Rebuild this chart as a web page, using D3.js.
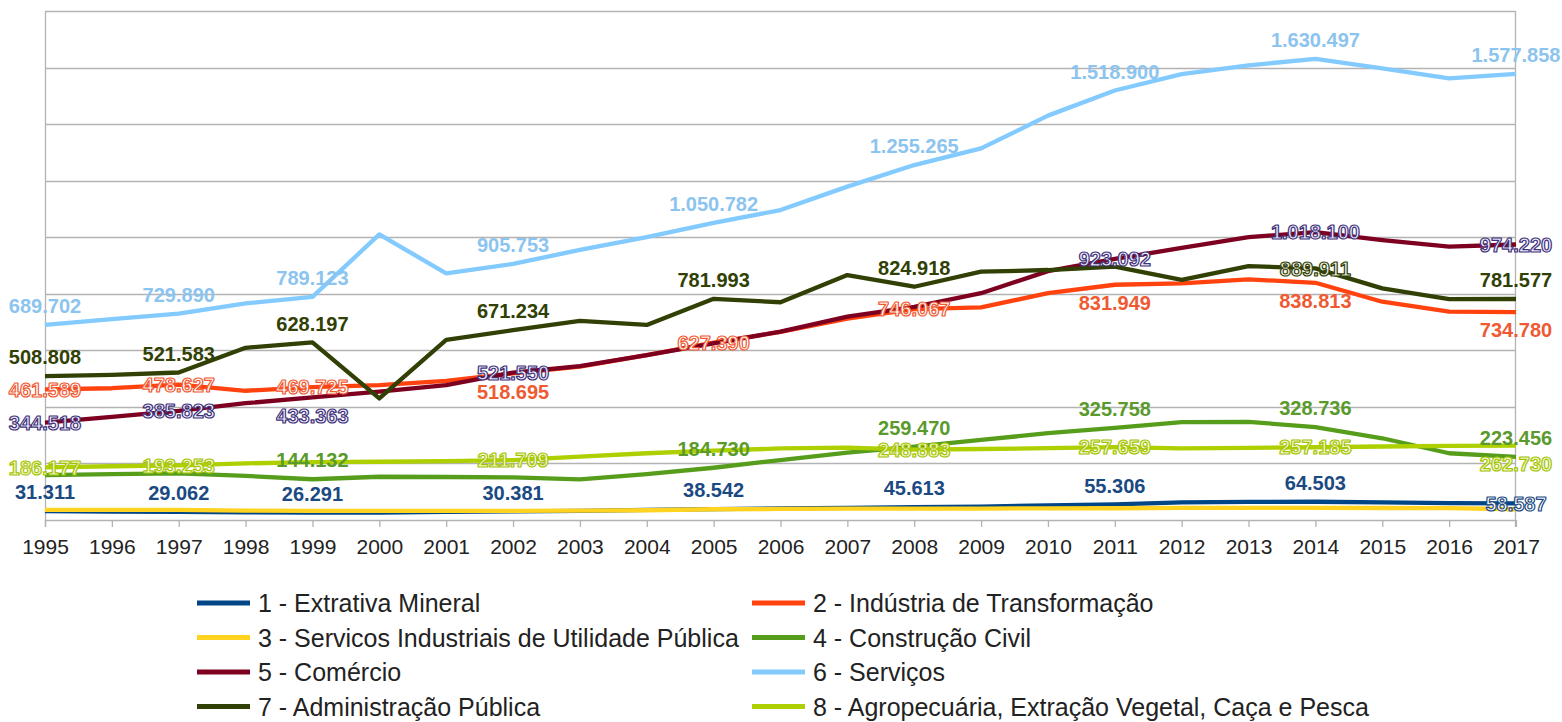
<!DOCTYPE html>
<html lang="pt">
<head>
  <meta charset="UTF-8">
  <title>Empregos por setor 1995-2017</title>
  <script src="https://d3js.org/d3.v7.min.js"></script>
  <style>
    body { margin: 0; background: #fff; }
    svg { display: block; }
    .grid line, .frame { stroke: #b3b3b3; stroke-width: 1.3px; fill: none; }
    .xaxis text { font: 21px "Liberation Sans", Arial, sans-serif; fill: #222; }
    .xaxis line { stroke: #b3b3b3; }
    .xaxis path { display: none; }
    .series { fill: none; stroke-width: 4.3px; stroke-linejoin: round; }
    .lbl { font: bold 20px "Liberation Sans", Arial, sans-serif; text-anchor: middle; }
    .legend text { font: 25px "Liberation Sans", Arial, sans-serif; fill: #222; }
  </style>
</head>
<body>
  <svg></svg>
  <script>
    const width = 1562;
    const height = 722;

    // categories
    const years = [1995, 1996, 1997, 1998, 1999, 2000, 2001, 2002, 2003, 2004, 2005, 2006,
                   2007, 2008, 2009, 2010, 2011, 2012, 2013, 2014, 2015, 2016, 2017];

    // series values (labelled points are exact)
    const extrativa = [31311, 30000, 29062, 27000, 26291, 26500, 28500, 30381, 32500, 35500, 38542, 41000,
                       43200, 45613, 47500, 51500, 55306, 62500, 64000, 64503, 62000, 59500, 58587];
    const industria = [461589, 466000, 478627, 457000, 469725, 477000, 492000, 518695, 542000, 583000, 627390, 665000,
                       712000, 746067, 752000, 802000, 831949, 837000, 851000, 838813, 772000, 737000, 734780];
    const utilidade = [36000, 36000, 36000, 33000, 32000, 32000, 32000, 32500, 33000, 34500, 38000, 39000,
                       40000, 40500, 40500, 41000, 41500, 43000, 43000, 43000, 42500, 42000, 38000];
    const construcao = [159000, 162000, 165000, 156000, 144132, 153000, 152000, 151000, 144000, 162000, 184730, 212000,
                        238000, 259470, 283000, 307000, 325758, 346000, 347000, 328736, 289000, 236000, 223456];
    const comercio = [344518, 365000, 385823, 413000, 433363, 454000, 477000, 521550, 544000, 583000, 625000, 666000,
                      719000, 754000, 802000, 880000, 923092, 962000, 1000000, 1018100, 990000, 967000, 974220];
    const servicos = [689702, 710000, 729890, 766000, 789123, 1010000, 872000, 905753, 955000, 1000000, 1050782, 1096000,
                      1179000, 1255265, 1314000, 1430000, 1518900, 1577000, 1608000, 1630497, 1597000, 1562000, 1577858];
    const administracao = [508808, 513000, 521583, 609000, 628197, 430000, 637000, 671234, 704000, 690000, 781993, 770000,
                           866000, 824918, 878000, 884000, 896000, 849000, 898000, 889911, 819000, 781000, 781577];
    const agropecuaria = [186177, 190000, 193253, 200000, 205000, 206000, 208000, 211709, 224000, 236000, 245000, 253000,
                          256000, 248883, 251000, 254000, 257659, 253000, 255000, 257185, 260000, 262000, 262730];

    const seriesNames = [
      "1 - Extrativa Mineral",
      "2 - Indústria de Transformação",
      "3 - Servicos Industriais de Utilidade Pública",
      "4 - Construção Civil",
      "5 - Comércio",
      "6 - Serviços",
      "7 - Administração Pública",
      "8 - Agropecuária, Extração Vegetal, Caça e Pesca"
    ];
    const seriesValues = [extrativa, industria, utilidade, construcao, comercio, servicos, administracao, agropecuaria];

    // styling: line colour, label colour, label fill for the outlined labels
    const lineColors = ["#004586", "#ff420e", "#ffd320", "#579d1c", "#7e0021", "#83caff", "#314004", "#aecf00"];
    const labelColors = ["#1b4a82", "#ef5a33", "#ffd320", "#5a9a2c", "#3f3279", "#8cc4f0", "#314004", "#a4c400"];
    const haloFill = ["#ffffff", "#ffffff", "#ffffff", "#ffffff", "#f1efff", "#ffffff", "#f4f4ea", "#f6fbd6"];

    // which points carry a label and where: a = above, b = below, c = on the line (outlined)
    const labelPlacement = [
      { 1995: "a", 1997: "a", 1999: "a", 2002: "a", 2005: "a", 2008: "a", 2011: "a", 2014: "a", 2017: "c" },
      { 1995: "c", 1997: "c", 1999: "c", 2002: "b", 2005: "c", 2008: "c", 2011: "b", 2014: "b", 2017: "b" },
      {},
      { 1999: "a", 2005: "a", 2008: "a", 2011: "a", 2014: "a", 2017: "a" },
      { 1995: "c", 1997: "c", 1999: "bo", 2002: "c", 2011: "c", 2014: "c", 2017: "c" },
      { 1995: "a", 1997: "a", 1999: "a", 2002: "a", 2005: "a", 2008: "a", 2011: "a", 2014: "a", 2017: "a" },
      { 1995: "a", 1997: "a", 1999: "a", 2002: "a", 2005: "a", 2008: "a", 2014: "c", 2017: "a" },
      { 1995: "c", 1997: "c", 2002: "c", 2008: "c", 2011: "c", 2014: "c", 2017: "bo" }
    ];

    const yTicks = [0, 200000, 400000, 600000, 800000, 1000000, 1200000, 1400000, 1600000, 1800000];

    const margin = { left: 45, right: 46, top: 11, bottom: 202 };
    const plotW = width - margin.left - margin.right;
    const plotH = height - margin.top - margin.bottom;

    const x = d3.scalePoint().domain(years).range([0, plotW]);
    const y = d3.scaleLinear().domain([0, 1800000]).range([plotH, 0]);

    const ptBR = d3.formatLocale({ decimal: ",", thousands: ".", grouping: [3], currency: ["R$", ""] });
    const fmt = ptBR.format(",d");

    const svg = d3.select("svg")
        .attr("width", width)
        .attr("height", height);

    const g = svg.append("g")
        .attr("transform", `translate(${margin.left},${margin.top})`);

    // horizontal grid
    g.append("g")
        .attr("class", "grid")
      .selectAll("line")
      .data(yTicks)
      .join("line")
        .attr("x1", 0)
        .attr("x2", plotW)
        .attr("y1", d => Math.round(y(d)) + 0.5)
        .attr("y2", d => Math.round(y(d)) + 0.5);

    g.append("line").attr("class", "frame")
        .attr("x1", 0.5).attr("x2", 0.5).attr("y1", 0).attr("y2", plotH + 7);
    g.append("line").attr("class", "frame")
        .attr("x1", plotW - 0.5).attr("x2", plotW - 0.5).attr("y1", 0).attr("y2", plotH + 7);

    // x axis
    const xAxis = g.append("g")
        .attr("class", "xaxis")
        .attr("transform", `translate(0,${plotH})`)
        .call(d3.axisBottom(x).tickSize(7).tickPadding(12));
    xAxis.selectAll(".tick line").attr("stroke", "#b3b3b3").attr("stroke-width", 1.3);

    // lines
    const line = d3.line()
        .x((d, i) => x(years[i]))
        .y(d => y(d));

    g.selectAll("path.series")
      .data(seriesValues)
      .join("path")
        .attr("class", "series")
        .attr("stroke", (d, i) => lineColors[i])
        .attr("d", line);

    // data labels
    const labels = [];
    seriesValues.forEach((vals, s) => {
      Object.entries(labelPlacement[s]).forEach(([yr, pos]) => {
        const i = years.indexOf(+yr);
        labels.push({ s, year: +yr, value: vals[i], pos });
      });
    });

    const offset = { a: -19, b: 18, bo: 18, c: 0 };
    const lbl = g.append("g").selectAll("text")
      .data(labels)
      .join("text")
        .attr("class", "lbl")
        .attr("x", d => x(d.year))
        .attr("y", d => y(d.value) + offset[d.pos])
        .attr("dy", "0.36em")
        .text(d => fmt(d.value));

    lbl.filter(d => d.pos === "a" || d.pos === "b")
        .attr("fill", d => labelColors[d.s]);

    lbl.filter(d => d.pos === "c" || d.pos === "bo")
        .attr("fill", d => haloFill[d.s])
        .attr("stroke", d => labelColors[d.s])
        .attr("stroke-width", 1.2)
        .attr("stroke-linejoin", "round");

    // legend
    const legendRows = [603, 637.5, 672, 706.5];
    const legendCols = [197, 752];
    const legend = svg.append("g")
        .attr("class", "legend")
      .selectAll("g")
      .data(seriesNames)
      .join("g")
        .attr("transform", (d, i) => `translate(${legendCols[i % 2]},${legendRows[Math.floor(i / 2)]})`);

    legend.append("line")
        .attr("x1", 0).attr("x2", 53)
        .attr("stroke", (d, i) => lineColors[i])
        .attr("stroke-width", 5);

    legend.append("text")
        .attr("x", 61)
        .attr("dy", "0.36em")
        .text(d => d);
  </script>
</body>
</html>
